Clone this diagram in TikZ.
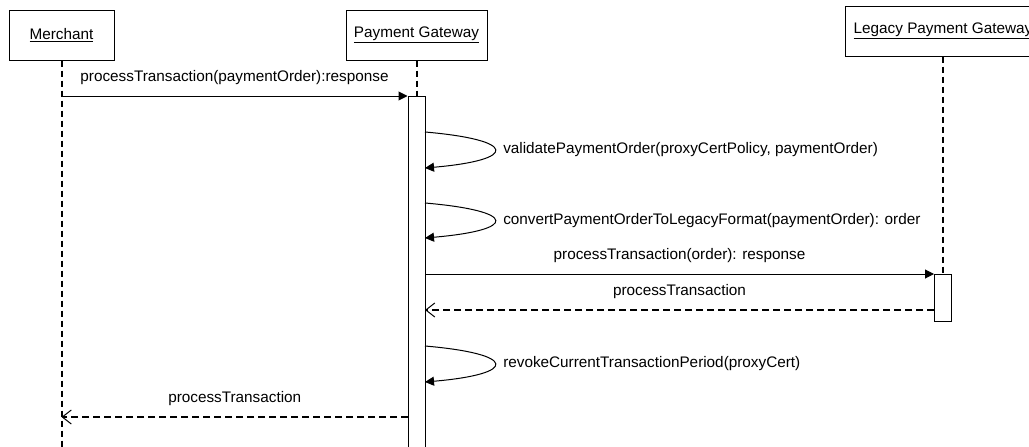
\documentclass[tikz,border=0pt]{standalone}
\usepackage{fontspec}
\setmainfont{Liberation Sans}
\usetikzlibrary{arrows.meta, positioning}

\begin{document}
\begin{tikzpicture}[x=1pt, y=-1pt, line width=1pt, font=\fontsize{15.3}{18}\selectfont]
\tikzstyle{object}=[draw=black, line width=1pt, rectangle, minimum height=50pt, inner sep=0pt]
\tikzstyle{lifeline}=[draw=black, line width=2pt, dash pattern=on 6pt off 4pt]
\tikzstyle{activation}=[draw=black, fill=white, line width=1pt, rectangle, inner sep=0pt, minimum width=17pt]
\tikzstyle{call}=[draw=black, line width=1pt, -{Triangle[length=9pt,width=9pt]}]
\tikzstyle{reply}=[draw=black, line width=1.6pt, dash pattern=on 7pt off 4pt, -{Straight Barb[length=9pt,width=14pt,line width=1pt]}]
\tikzstyle{msg}=[inner sep=0pt, above=11pt]
\tikzstyle{selfmsg}=[inner sep=0pt, right=8pt]

\useasboundingbox (0,0) rectangle (1029,447);
\clip (0,0) rectangle (1029,447);

% objects
\node[object, minimum width=105pt]   (merchant) at (61.5,35)  {\underline{Merchant}};
\node[object, minimum width=141pt]   (gateway)  at (416.5,35) {\underline{Payment Gateway}};
\node[object, minimum width=196pt]   (legacy)   at (943,31)   {\underline{Legacy Payment Gateway}};

% activation bars
\node[activation, anchor=north, minimum height=370pt] (gwbar) at (416.5,96) {};
\node[activation, anchor=north, minimum height=47pt]  (lgbar) at (943,274)  {};

% message ends
\coordinate (mtop)  at (61.5,96);
\coordinate (mret)  at (61.5,417);
\coordinate (mend)  at (61.5,460);
\coordinate (gwout) at (425,274);
\coordinate (gwin)  at (425,310);
\coordinate (lgret) at (934,310);
\coordinate (gwret) at (408,417);
\coordinate (v1s) at (425,132);
\coordinate (v1e) at (425,168);
\coordinate (v2s) at (425,203);
\coordinate (v2e) at (425,238);
\coordinate (v3s) at (425,346);
\coordinate (v3e) at (425,382);

% lifelines
\path
(merchant) edge[lifeline] (mend)
(gateway)  edge[lifeline] (gwbar)
(legacy)   edge[lifeline] (lgbar);

% messages
\path
(mtop)  edge[call] node[msg]{processTransaction(paymentOrder):response} (gwbar.north west)
(gwout) edge[call] node[msg]{processTransaction(order): response} (lgbar.north west)
(lgret) edge[reply] node[msg]{processTransaction} (gwin)
(gwret) edge[reply] node[msg]{processTransaction} (mret);

% self calls
\draw[call] (v1s) .. controls +(93,8) and +(93,-8) .. (v1e)
  node[pos=0.5, selfmsg]{validatePaymentOrder(proxyCertPolicy, paymentOrder)};
\draw[call] (v2s) .. controls +(93,8) and +(93,-8) .. (v2e)
  node[pos=0.5, selfmsg]{convertPaymentOrderToLegacyFormat(paymentOrder): order};
\draw[call] (v3s) .. controls +(93,8) and +(93,-8) .. (v3e)
  node[pos=0.5, selfmsg]{revokeCurrentTransactionPeriod(proxyCert)};

\end{tikzpicture}
\end{document}
